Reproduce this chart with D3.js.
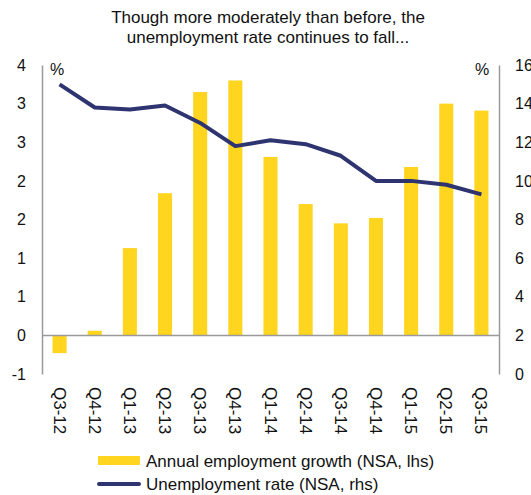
<!DOCTYPE html>
<html>
<head>
<meta charset="utf-8">
<script src="https://cdn.jsdelivr.net/npm/d3@7"></script>
<style>
  body { margin: 0; background: #fff; }
  svg { display: block; font-family: "Liberation Sans", Arial, sans-serif; }
</style>
</head>
<body>
<div id="chart"></div>
<script>
const quarters = ["Q3-12", "Q4-12", "Q1-13", "Q2-13", "Q3-13", "Q4-13", "Q1-14",
                  "Q2-14", "Q3-14", "Q4-14", "Q1-15", "Q2-15", "Q3-15"];
const employmentGrowth = [-0.23, 0.06, 1.13, 1.84, 3.15, 3.30, 2.31, 1.70, 1.45, 1.52, 2.18, 3.00, 2.91];
const unemploymentRate = [15.0, 13.8, 13.7, 13.9, 13.0, 11.8, 12.1, 11.9, 11.3, 10.0, 10.0, 9.8, 9.3];
const leftTicks = [-0.5, 0, 0.5, 1, 1.5, 2, 2.5, 3, 3.5];
const rightTicks = [0, 2, 4, 6, 8, 10, 12, 14, 16];

const W = 531, H = 495;
const plot = { left: 42, right: 499, top: 65, bottom: 374 };

const svg = d3.select("#chart").append("svg")
  .attr("width", W).attr("height", H);

const x = d3.scaleBand().domain(quarters)
  .range([plot.left, plot.right]).paddingInner(0.6).paddingOuter(0.3);
const yL = d3.scaleLinear().domain([-0.5, 3.5]).range([plot.bottom, plot.top]);
const yR = d3.scaleLinear().domain([0, 16]).range([plot.bottom, plot.top]);

// Titre
svg.append("text")
  .attr("x", 268).attr("y", 23)
  .attr("text-anchor", "middle")
  .style("font-size", "17px").attr("fill", "#111")
  .selectAll("tspan")
  .data(["Though more moderately than before, the", "unemployment rate continues to fall..."])
  .join("tspan")
  .attr("x", 268).attr("dy", (d, i) => i ? 20 : 0)
  .text(d => d);

// Barres
svg.append("g").selectAll("rect")
  .data(employmentGrowth)
  .join("rect")
  .attr("x", (d, i) => x(quarters[i]))
  .attr("width", x.bandwidth())
  .attr("y", d => yL(Math.max(0, d)))
  .attr("height", d => Math.abs(yL(d) - yL(0)))
  .attr("fill", "#ffd520");

// Axes
const axisColor = "#9a9a9a";
const leftAxis = svg.append("g")
  .attr("transform", `translate(${plot.left},0)`)
  .call(d3.axisLeft(yL).tickValues(leftTicks).tickSize(0).tickPadding(16)
    .tickFormat(d => Math.sign(d) * Math.round(Math.abs(d))));
const rightAxis = svg.append("g")
  .attr("transform", `translate(${plot.right},0)`)
  .call(d3.axisRight(yR).tickValues(rightTicks).tickSize(0).tickPadding(16));
[leftAxis, rightAxis].forEach(a => {
  a.select(".domain").attr("stroke", axisColor).attr("stroke-width", 1.5);
  a.selectAll("text").style("font-size", "16px").attr("fill", "#111")
    .attr("font-family", "Liberation Sans, Arial, sans-serif");
});

// Ligne du zéro
svg.append("line")
  .attr("x1", plot.left).attr("x2", plot.right)
  .attr("y1", yL(0)).attr("y2", yL(0))
  .attr("stroke", axisColor).attr("stroke-width", 1.5);

// Libellés des trimestres
svg.append("g").selectAll("text")
  .data(quarters)
  .join("text")
  .attr("transform", d => `translate(${x(d) + x.bandwidth() / 2 - 6},387) rotate(90)`)
  .style("font-size", "17px").attr("fill", "#111")
  .text(d => d);

// Ligne du chômage
svg.append("path")
  .datum(unemploymentRate)
  .attr("fill", "none")
  .attr("stroke", "#2d3470")
  .attr("stroke-width", 4)
  .attr("stroke-linejoin", "round")
  .attr("d", d3.line()
    .x((d, i) => x(quarters[i]) + x.bandwidth() / 2)
    .y(d => yR(d)));

// Unités
svg.append("text").attr("x", 50).attr("y", 75)
  .style("font-size", "16px").attr("fill", "#111").text("%");
svg.append("text").attr("x", 475).attr("y", 75)
  .style("font-size", "16px").attr("fill", "#111").text("%");

// Légende
const legend = svg.append("g");
legend.append("rect").attr("x", 98).attr("y", 456).attr("width", 42).attr("height", 9)
  .attr("fill", "#ffd520");
legend.append("text").attr("x", 146).attr("y", 467)
  .style("font-size", "17px").attr("fill", "#111")
  .text("Annual employment growth (NSA, lhs)");
legend.append("line").attr("x1", 99).attr("x2", 139).attr("y1", 484).attr("y2", 484)
  .attr("stroke", "#2d3470").attr("stroke-width", 4).attr("stroke-linecap", "round");
legend.append("text").attr("x", 146).attr("y", 490)
  .style("font-size", "17px").attr("fill", "#111")
  .text("Unemployment rate (NSA, rhs)");
</script>
</body>
</html>
